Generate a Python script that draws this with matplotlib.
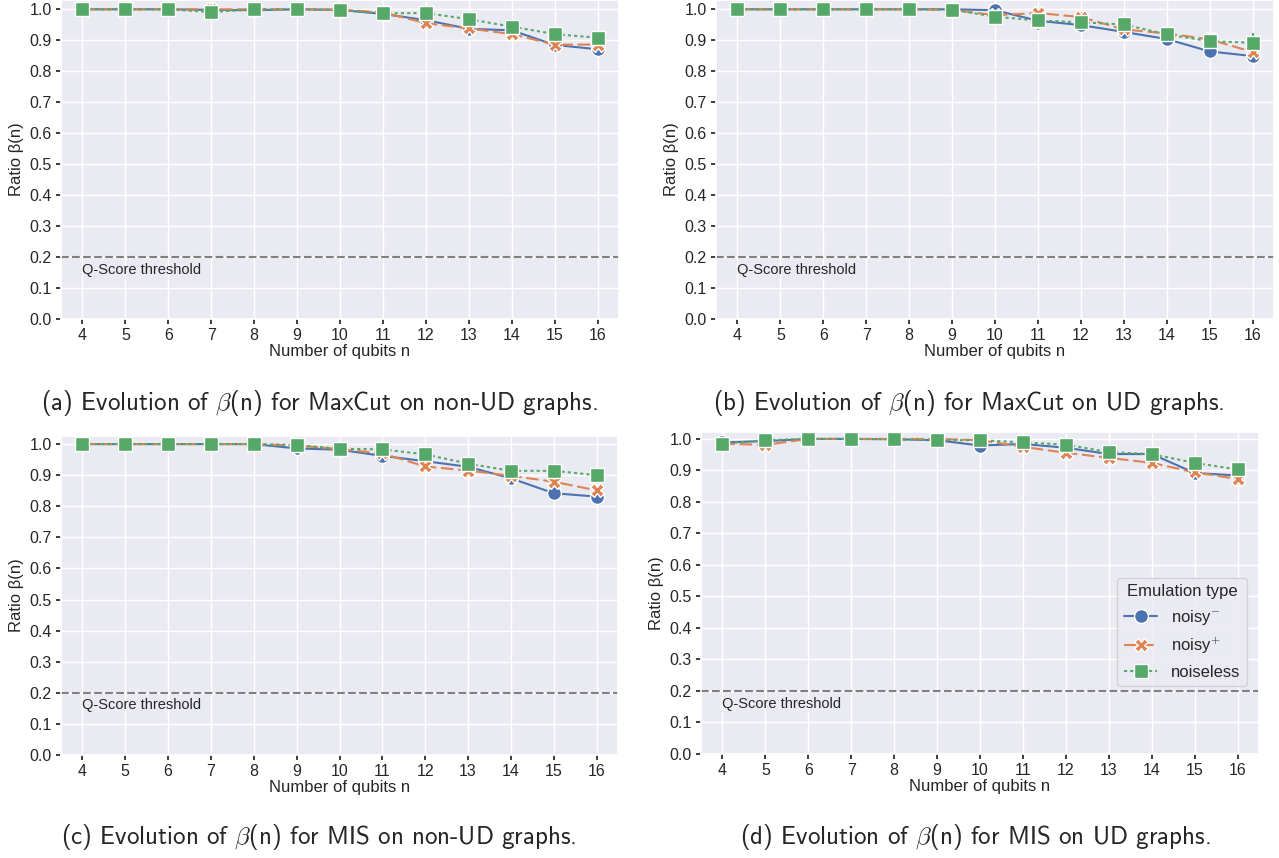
import numpy as np
import matplotlib
matplotlib.use("Agg")
import matplotlib.pyplot as plt
import seaborn as sns

sns.set_theme(style="darkgrid")
plt.rcParams['font.family'] = ['Liberation Sans', 'DejaVu Sans']
plt.rcParams['mathtext.fontset'] = 'cm'
plt.rcParams['xtick.bottom'] = True
plt.rcParams['ytick.left'] = True
plt.rcParams['xtick.major.size'] = 3.5
plt.rcParams['ytick.major.size'] = 3.5
plt.rcParams['xtick.color'] = '.15'
plt.rcParams['ytick.color'] = '.15'

n_qubits = [4, 5, 6, 7, 8, 9, 10, 11, 12, 13, 14, 15, 16]
series_labels = ["noisy$^{-}$", "noisy$^{+}$", "noiseless"]

# (a) MaxCut, non-UD
a_minus = [1.0, 1.0, 1.0, 0.998, 0.997, 1.0, 0.998, 0.985, 0.965, 0.937, 0.932, 0.885, 0.871]
a_plus = [1.0, 1.0, 1.0, 1.0, 1.0, 1.0, 0.999, 0.99, 0.955, 0.938, 0.92, 0.886, 0.886]
a_none = [1.0, 1.0, 1.0, 0.991, 1.0, 1.0, 0.998, 0.987, 0.988, 0.968, 0.944, 0.92, 0.908]
a_minus_err = [0.006, 0.006, 0.006, 0.004, 0.008, 0.006, 0.006, 0.004, 0.008, 0.016, 0.008, 0.008, 0.012]
a_plus_err = [0.004, 0.004, 0.004, 0.012, 0.004, 0.004, 0.004, 0.012, 0.01, 0.01, 0.012, 0.012, 0.01]
a_none_err = [0.004, 0.004, 0.004, 0.014, 0.004, 0.004, 0.004, 0.004, 0.004, 0.006, 0.006, 0.006, 0.016]

# (b) MaxCut, UD
b_minus = [1.0, 1.0, 1.0, 1.0, 1.0, 1.0, 0.997, 0.963, 0.949, 0.927, 0.904, 0.864, 0.849]
b_plus = [1.0, 1.0, 1.0, 1.0, 1.0, 0.998, 0.981, 0.988, 0.975, 0.935, 0.922, 0.903, 0.862]
b_none = [1.0, 1.0, 1.0, 1.0, 1.0, 0.999, 0.976, 0.964, 0.958, 0.951, 0.919, 0.897, 0.892]
b_minus_err = [0.003, 0.003, 0.003, 0.003, 0.003, 0.003, 0.008, 0.03, 0.025, 0.012, 0.012, 0.02, 0.022]
b_plus_err = [0.003, 0.003, 0.003, 0.003, 0.003, 0.004, 0.01, 0.012, 0.015, 0.012, 0.012, 0.015, 0.02]
b_none_err = [0.003, 0.003, 0.003, 0.003, 0.003, 0.003, 0.025, 0.03, 0.02, 0.012, 0.01, 0.012, 0.03]

# (c) MIS, non-UD
c_minus = [1.0, 1.0, 1.0, 1.0, 1.0, 0.986, 0.982, 0.962, 0.945, 0.927, 0.890, 0.842, 0.831]
c_plus = [1.0, 1.0, 1.0, 1.0, 1.0, 0.995, 0.984, 0.97, 0.928, 0.915, 0.898, 0.879, 0.851]
c_none = [1.0, 1.0, 1.0, 1.0, 1.0, 0.997, 0.985, 0.983, 0.967, 0.937, 0.914, 0.914, 0.90]
c_minus_err = [0.005, 0.005, 0.005, 0.005, 0.005, 0.008, 0.004, 0.01, 0.006, 0.006, 0.015, 0.008, 0.012]
c_plus_err = [0.004, 0.004, 0.004, 0.004, 0.004, 0.008, 0.006, 0.008, 0.01, 0.01, 0.008, 0.01, 0.01]
c_none_err = [0.003, 0.003, 0.003, 0.003, 0.003, 0.003, 0.003, 0.003, 0.003, 0.012, 0.012, 0.008, 0.005]

# (d) MIS, UD
d_minus = [0.989, 0.993, 1.0, 1.0, 0.999, 0.996, 0.979, 0.984, 0.972, 0.952, 0.952, 0.892, 0.884]
d_plus = [0.985, 0.981, 1.0, 1.0, 1.0, 1.0, 0.996, 0.975, 0.956, 0.94, 0.924, 0.894, 0.873]
d_none = [0.985, 0.996, 1.0, 1.0, 0.999, 0.996, 0.996, 0.989, 0.982, 0.958, 0.952, 0.924, 0.903]
d_minus_err = [0.01, 0.005, 0.008, 0.006, 0.008, 0.004, 0.01, 0.004, 0.004, 0.006, 0.006, 0.01, 0.006]
d_plus_err = [0.004, 0.008, 0.004, 0.008, 0.004, 0.008, 0.008, 0.008, 0.004, 0.006, 0.015, 0.01, 0.015]
d_none_err = [0.01, 0.006, 0.006, 0.004, 0.004, 0.004, 0.004, 0.004, 0.004, 0.008, 0.008, 0.008, 0.008]

captions = [
    r"(a) Evolution of $\beta$(n) for MaxCut on non-UD graphs.",
    r"(b) Evolution of $\beta$(n) for MaxCut on UD graphs.",
    r"(c) Evolution of $\beta$(n) for MIS on non-UD graphs.",
    r"(d) Evolution of $\beta$(n) for MIS on UD graphs.",
]
threshold = 0.2

panels = [
    (a_minus, a_plus, a_none, a_minus_err, a_plus_err, a_none_err),
    (b_minus, b_plus, b_none, b_minus_err, b_plus_err, b_none_err),
    (c_minus, c_plus, c_none, c_minus_err, c_plus_err, c_none_err),
    (d_minus, d_plus, d_none, d_minus_err, d_plus_err, d_none_err),
]

W, H = 1279, 858
# axes boxes in pixels: left, top, right, bottom
boxes = [(61, 0, 619, 319), (716, 0, 1274, 319), (61, 436, 618, 755), (701, 432, 1259, 754)]
ytops = [1.03, 1.03, 1.026, 1.022]
caption_pos = [(319, 403), (969, 403), (319, 837), (975, 837)]

colors = sns.color_palette("deep")[:3]
markers = ["o", "X", "s"]
dashes = [None, (6, 2.25), (1.5, 1.5)]

fig = plt.figure(figsize=(W / 100, H / 100), dpi=100)

for i, data in enumerate(panels):
    l, t, r, b = boxes[i]
    ax = fig.add_axes([l / W, 1 - b / H, (r - l) / W, (b - t) / H])
    vals = data[:3]
    errs = data[3:]
    for k in range(3):
        ax.errorbar(n_qubits, vals[k], yerr=errs[k], fmt='none', ecolor=colors[k],
                    elinewidth=1.5, zorder=2)
        line, = ax.plot(n_qubits, vals[k], color=colors[k], marker=markers[k],
                        markersize=10, markeredgecolor='white', markeredgewidth=1,
                        linewidth=1.5, label=series_labels[k], zorder=3)
        if dashes[k] is not None:
            line.set_dashes(dashes[k])
    ax.axhline(threshold, color='gray', linestyle='--', linewidth=1.5, zorder=1)
    ax.text(4, threshold - 0.018, "Q-Score threshold", fontsize=10.5, va='top', ha='left',
            color='.15')
    ax.set_xlim(3.5, 16.5)
    ax.set_ylim(0, ytops[i])
    ax.set_xticks(n_qubits)
    ax.set_yticks(np.arange(0, 1.01, 0.1))
    ax.tick_params(labelsize=11.5, pad=3)
    ax.set_xlabel("Number of qubits n", fontsize=12, labelpad=1)
    ax.set_ylabel("Ratio β(n)", fontsize=12)
    if i == 3:
        ax.legend(title="Emulation type", loc='upper right', bbox_to_anchor=(0.993, 0.573),
                  fontsize=12, title_fontsize=12, frameon=True, handlelength=2.0)
    cx, cy = caption_pos[i]
    fig.text(cx / W, 1 - cy / H, captions[i], ha='center', va='center',
             fontsize=18, family='cmss10')

fig.savefig("out.png", dpi=100)
